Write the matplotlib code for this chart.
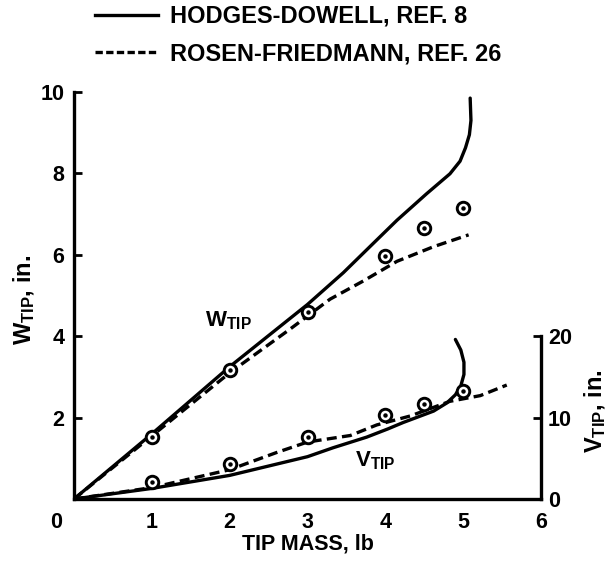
import matplotlib
matplotlib.use("Agg")
import matplotlib.pyplot as plt
from matplotlib.lines import Line2D
import matplotlib.transforms as mtransforms

FAMILY = ["Liberation Sans Narrow", "Liberation Sans", "DejaVu Sans"]
plt.rcParams["font.family"] = FAMILY
plt.rcParams["font.weight"] = "bold"
plt.rcParams["mathtext.fontset"] = "custom"
plt.rcParams["mathtext.rm"] = "Liberation Sans:bold"
plt.rcParams["mathtext.it"] = "Liberation Sans:bold"
plt.rcParams["mathtext.bf"] = "Liberation Sans:bold"
plt.rcParams["mathtext.default"] = "rm"

# ---- axis ticks -------------------------------------------------------------
mass_ticks = [0, 1, 2, 3, 4, 5, 6]
mass_tick_labels = ["0", "1", "2", "3", "4", "5", "6"]
w_ticks = [2, 4, 6, 8, 10]
w_tick_labels = ["2", "4", "6", "8", "10"]
v_ticks = [0, 10, 20]
v_tick_labels = ["0", "10", "20"]

# ---- flapwise tip deflection W_TIP (in.) ------------------------------------
hd_w_mass = [0, 1, 2, 3, 3.46, 3.85, 4.15, 4.53, 4.83, 4.96, 5.03, 5.08, 5.10, 5.09]
hd_w = [0, 1.60, 3.25, 4.78, 5.56, 6.29, 6.85, 7.50, 7.99, 8.30, 8.63, 8.95, 9.30, 9.85]

rf_w_mass = [0, 1, 2, 2.78, 3.29, 3.72, 4.15, 4.62, 5.07]
rf_w = [0, 1.55, 3.10, 4.18, 4.91, 5.36, 5.84, 6.20, 6.49]

test_mass = [1, 2, 3, 4, 4.5, 5]
test_w = [1.53, 3.17, 4.59, 5.98, 6.67, 7.14]

# ---- chordwise tip deflection V_TIP (in.) -----------------------------------
hd_v_mass = [0, 1, 2, 3, 3.33, 3.76, 4.03, 4.23, 4.62, 4.79, 4.90, 4.97, 5.01, 5.01, 4.97, 4.90]
hd_v = [0, 1.3, 2.9, 5.2, 6.3, 7.6, 8.6, 9.4, 10.8, 11.8, 12.8, 13.9, 15.3, 16.8, 18.3, 19.6]

rf_v_mass = [0, 1, 2, 2.6, 3.0, 3.55, 3.89, 4.32, 4.83, 5.22, 5.56]
rf_v = [0, 1.4, 3.6, 5.7, 7.0, 7.8, 9.1, 10.2, 12.0, 12.7, 14.0]

test_v = [2.1, 4.3, 7.6, 10.3, 11.7, 13.3]

legend_labels = ["HODGES-DOWELL, REF. 8", "ROSEN-FRIEDMANN, REF. 26"]

INK = "black"
LW = 2.4
DASH = (0, (3.0, 1.6))
FS = 15.5

fig = plt.figure(figsize=(6.08, 5.64), dpi=100)
ax = fig.add_axes([74 / 608, 65 / 564, 467 / 608, 407 / 564])
ax2 = ax.twinx()

ax.set_xlim(0, 6)
ax.set_ylim(0, 10)
ax2.set_ylim(0, 50)

# W curves on the left scale
ax.plot(hd_w_mass, hd_w, color=INK, lw=LW, solid_capstyle="round", solid_joinstyle="round")
ax.plot(rf_w_mass, rf_w, color=INK, lw=LW, linestyle=DASH)
ax.plot(test_mass, test_w, linestyle="none", marker="o", ms=9, mfc="white",
        mec=INK, mew=2.1, zorder=5)
ax.plot(test_mass, test_w, linestyle="none", marker="o", ms=2.2, color=INK, zorder=6)

# V curves on the right scale
ax2.plot(hd_v_mass, hd_v, color=INK, lw=LW, solid_capstyle="round", solid_joinstyle="round")
ax2.plot(rf_v_mass, rf_v, color=INK, lw=LW, linestyle=DASH)
ax2.plot(test_mass, test_v, linestyle="none", marker="o", ms=9, mfc="white",
         mec=INK, mew=2.1, zorder=5)
ax2.plot(test_mass, test_v, linestyle="none", marker="o", ms=2.2, color=INK, zorder=6)

# curve labels
ax.text(1.68, 4.23, r"W$_{\mathrm{TIP}}$", fontsize=16, fontweight="bold", va="baseline")
ax.text(3.61, 0.79, r"V$_{\mathrm{TIP}}$", fontsize=16, fontweight="bold", va="baseline")

# spines
for s in ("top", "right"):
    ax.spines[s].set_visible(False)
for s in ("left", "bottom"):
    ax.spines[s].set_linewidth(2.4)
for s in ("top", "left", "bottom"):
    ax2.spines[s].set_visible(False)
ax2.spines["right"].set_linewidth(2.4)
ax2.spines["right"].set_bounds(0, 20)

# ticks
ax.set_xticks(mass_ticks)
ax.set_xticklabels(mass_tick_labels)
ax.set_xticks([1, 2, 3, 4, 5], minor=True)
ax.tick_params(axis="x", which="major", length=0, pad=9, labelsize=FS)
ax.tick_params(axis="x", which="minor", direction="in", length=7, width=2)
ax.set_yticks(w_ticks)
ax.set_yticklabels(w_tick_labels)
ax.tick_params(axis="y", direction="in", length=6, width=2, pad=7, labelsize=FS)
ax2.set_yticks(v_ticks)
ax2.set_yticklabels(v_tick_labels)
ax2.tick_params(axis="y", direction="in", length=6, width=2, pad=5, labelsize=FS)

# axis titles
ax.set_xlabel("TIP MASS, lb", fontsize=FS, fontweight="bold")
ax.xaxis.set_label_coords(0.5, -0.085)
ax.set_ylabel(r"W$_{\mathrm{TIP}}$, in.", fontsize=17, fontweight="bold")
ax.yaxis.set_label_coords(-0.08, 0.49)
ax2.set_ylabel(r"V$_{\mathrm{TIP}}$, in.", fontsize=17, fontweight="bold")
ax2.yaxis.set_label_coords(1.088, 0.215)

# legend
handles = [
    Line2D([], [], color=INK, lw=LW),
    Line2D([], [], color=INK, lw=LW, linestyle=(0, (2.2, 1.0))),
]
fig.legend(handles, legend_labels, loc="upper left",
           bbox_to_anchor=(95 / 608, 1 - 5 / 564), frameon=False,
           prop={"family": FAMILY, "weight": "bold", "size": 17},
           handlelength=2.67, handletextpad=0.5, labelspacing=0.6,
           borderpad=0, borderaxespad=0)

# the "0" under the origin sits left of the corner
fig.canvas.draw()
zero = ax.xaxis.get_major_ticks()[0].label1
zero.set_transform(zero.get_transform() +
                   mtransforms.ScaledTranslation(-18 / 100, 0, fig.dpi_scale_trans))

fig.savefig("out.png", dpi=100)
